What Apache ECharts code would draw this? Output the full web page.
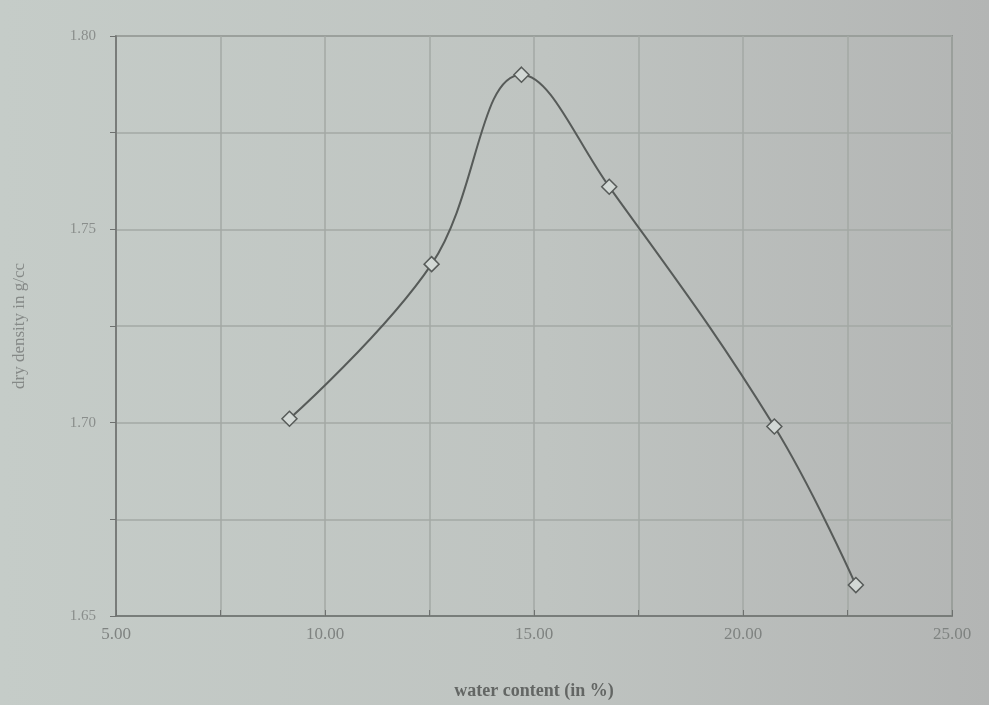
<!DOCTYPE html>
<html>
<head>
<meta charset="utf-8">
<script src="https://cdn.jsdelivr.net/npm/echarts@6/dist/echarts.min.js"></script>
<style>
html,body{margin:0;padding:0;background:#c2c8c4;}
#chart{width:989px;height:705px;}
</style>
</head>
<body>
<div id="chart"></div>
<script>
// water content (%) and dry density (g/cc)
var waterContent = [9.15, 12.55, 14.7, 16.8, 20.75, 22.7];
var dryDensity = [1.701, 1.741, 1.790, 1.761, 1.699, 1.658];
var xTitle = 'water content (in %)';
var yTitle = 'dry density in g/cc';

var pts = waterContent.map(function (x, i) { return [x, dryDensity[i]]; });
var chart = echarts.init(document.getElementById('chart'));
var serif = '"Liberation Serif", "DejaVu Serif", serif';
chart.setOption({
  backgroundColor: new echarts.graphic.LinearGradient(0, 0, 1, 0, [
    {offset: 0, color: '#c5ccc8'},
    {offset: 0.55, color: '#bfc4c1'},
    {offset: 1, color: '#b3b5b4'}
  ]),
  animation: false,
  grid: {left: 116, right: 37, top: 36, bottom: 89, show: true, borderColor: '#6e716f', borderWidth: 1.5, backgroundColor: 'rgba(0,0,0,0)'},
  xAxis: {
    type: 'value', min: 5, max: 25, interval: 2.5,
    name: xTitle, nameLocation: 'middle', nameGap: 66,
    nameTextStyle: {fontFamily: serif, fontSize: 18, fontWeight: 'bold', color: '#636664'},
    axisLine: {show: true, lineStyle: {color: '#6e716f', width: 1.5}},
    axisTick: {show: true, inside: true, length: 6, lineStyle: {color: '#6e716f'}},
    axisLabel: {margin: 10, fontFamily: serif, fontSize: 17, color: '#7f8381',
      formatter: function (v) { return Math.abs(v / 5 - Math.round(v / 5)) < 1e-6 ? v.toFixed(2) : ''; }},
    splitLine: {show: true, lineStyle: {color: '#a3a8a5', width: 1.5}}
  },
  yAxis: {
    type: 'value', min: 1.65, max: 1.80, interval: 0.025,
    name: yTitle, nameLocation: 'middle', nameGap: 88, nameRotate: 90,
    nameTextStyle: {fontFamily: serif, fontSize: 17, color: '#858987'},
    axisLine: {show: true, lineStyle: {color: '#6e716f', width: 1.5}},
    axisTick: {show: true, length: 6, lineStyle: {color: '#6e716f'}},
    axisLabel: {margin: 20, fontFamily: serif, fontSize: 15, color: '#8a8e8c',
      formatter: function (v) { return Math.abs(v * 20 - Math.round(v * 20)) < 1e-6 ? v.toFixed(2) : ''; }},
    splitLine: {show: true, lineStyle: {color: '#a3a8a5', width: 1.5}}
  },
  series: [{
    type: 'line',
    data: pts,
    smooth: 0.4,
    symbol: 'diamond',
    symbolSize: 15,
    lineStyle: {color: '#575b59', width: 2},
    itemStyle: {color: '#d2d8d5', borderColor: '#575b59', borderWidth: 1.5}
  }]
});
</script>
</body>
</html>
